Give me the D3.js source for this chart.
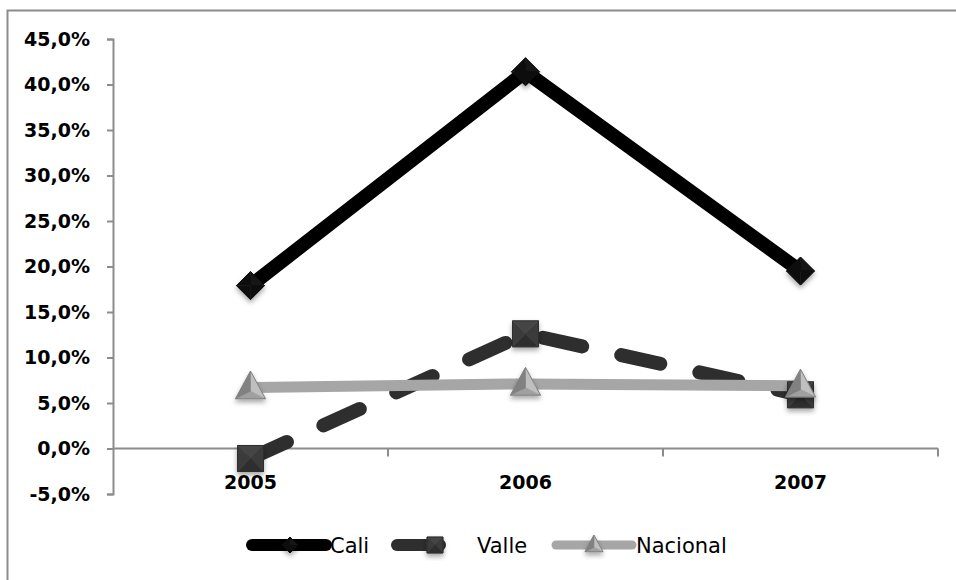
<!DOCTYPE html>
<html>
<head>
<meta charset="utf-8">
<script src="https://cdn.jsdelivr.net/npm/d3@7"></script>
<style>
  body { margin: 0; background: #fff; }
  svg { display: block; font-family: "DejaVu Sans", "Liberation Sans", sans-serif; }
</style>
</head>
<body>
<svg id="chart" width="956" height="580"></svg>
<script>
// data
let years = ['2005', '2006', '2007'],
    cali = [17.9, 41.4, 19.5],
    valle = [-1.1, 12.6, 5.9],
    nacional = [6.7, 7.1, 6.9],
    yTicks = [-5, 0, 5, 10, 15, 20, 25, 30, 35, 40, 45];

let svg = d3.select('#chart');

// outer frame (runs off right / bottom edge)
svg.append('rect')
    .attr('x', 7.5).attr('y', 10.5)
    .attr('width', 960).attr('height', 600)
    .attr('fill', 'none').attr('stroke', '#8c8c8c').attr('stroke-width', 2);

let defs = svg.append('defs');
let f = defs.append('filter').attr('id', 'shadow')
    .attr('x', '-50%').attr('y', '-50%').attr('width', '200%').attr('height', '200%');
f.append('feDropShadow').attr('dx', 0).attr('dy', 3).attr('stdDeviation', 2.5)
    .attr('flood-color', '#000').attr('flood-opacity', 0.35);

let x = d3.scaleBand().domain(years).range([113, 938]),
    y = d3.scaleLinear().domain([-5, 45]).range([494, 39]);

let cx = d => x(d) + x.bandwidth() / 2;

// y axis
let yAxis = svg.append('g')
    .attr('transform', 'translate(113,0)')
    .call(d3.axisLeft(y).tickValues(yTicks).tickSize(6).tickSizeOuter(6)
        .tickFormat(d => d.toFixed(1).replace('.', ',') + '%'))
    .attr('font-family', '"DejaVu Sans", sans-serif');
yAxis.select('.domain').attr('stroke', '#8c8c8c').attr('stroke-width', 2);
yAxis.selectAll('.tick line').attr('stroke', '#8c8c8c').attr('stroke-width', 2);
yAxis.selectAll('.tick text')
    .attr('x', -23).attr('font-size', 19).attr('font-weight', 'bold').attr('fill', '#000');

// x axis at zero
let xAxis = svg.append('g').attr('transform', 'translate(0,' + y(0) + ')');
xAxis.append('line')
    .attr('x1', 113).attr('x2', 938)
    .attr('stroke', '#8c8c8c').attr('stroke-width', 2);
xAxis.selectAll('.sep')
    .data(years)
    .enter()
    .append('line')
    .attr('x1', d => x(d) + x.bandwidth()).attr('x2', d => x(d) + x.bandwidth())
    .attr('y1', 0).attr('y2', 8)
    .attr('stroke', '#8c8c8c').attr('stroke-width', 2);
svg.selectAll('.xlab')
    .data(years)
    .enter()
    .append('text')
    .attr('x', cx).attr('y', 489)
    .attr('text-anchor', 'middle')
    .attr('font-size', 19).attr('font-weight', 'bold')
    .text(d => d);

let line = d3.line().x((d, i) => cx(years[i])).y(d => y(d));

let series = [
    {name: 'Cali', values: cali, color: '#000', width: 14, dash: null, marker: 'diamond', mcolor: '#111'},
    {name: 'Valle', values: valle, color: '#2e2e2e', width: 14, dash: '40,40', marker: 'square', mcolor: '#3a3a3a'},
    {name: 'Nacional', values: nacional, color: '#a6a6a6', width: 11, dash: null, marker: 'triangle', mcolor: '#a0a0a0'}
];

series.forEach(s => {
    svg.append('path')
        .attr('d', line(s.values))
        .attr('fill', 'none')
        .attr('stroke', s.color)
        .attr('stroke-width', s.width)
        .attr('stroke-linecap', s.dash ? 'round' : 'butt')
        .attr('stroke-dasharray', s.dash);
});

// faceted marker drawing
function marker(g, type, px, py, c, size) {
    let h = size / 2, dark = d3.color(c).darker(0.6), light = d3.color(c).brighter(0.5);
    let grp = g.append('g').attr('transform', 'translate(' + px + ',' + py + ')').attr('filter', 'url(#shadow)');
    let pts;
    if (type === 'diamond') pts = [[0, -h], [h, 0], [0, h], [-h, 0]];
    else if (type === 'square') pts = [[-h, -h], [h, -h], [h, h], [-h, h]];
    else pts = [[0, -h * 1.1], [h, h * 0.75], [-h, h * 0.75]];
    let cy0 = type === 'triangle' ? h * 0.25 : 0;
    let shades = type === 'triangle' ? [light, c, dark] : [light, c, dark, c];
    pts.forEach((p, i) => {
        let q = pts[(i + 1) % pts.length];
        grp.append('path')
            .attr('d', 'M0,' + cy0 + 'L' + p[0] + ',' + p[1] + 'L' + q[0] + ',' + q[1] + 'Z')
            .attr('fill', shades[i]).attr('stroke', shades[i]).attr('stroke-width', 0.5);
    });
    grp.append('path')
        .attr('d', 'M' + pts.map(p => p.join(',')).join('L') + 'Z')
        .attr('fill', 'none').attr('stroke', dark).attr('stroke-width', 1);
}

let sizes = {diamond: 28, square: 26, triangle: 30};
series.forEach(s => {
    s.values.forEach((v, i) => marker(svg, s.marker, cx(years[i]), y(v), s.mcolor, sizes[s.marker]));
});

// legend
let legend = [
    {s: series[0], x1: 252, x2: 326, mx: 290, tx: 330},
    {s: series[1], x1: 397, x2: 440, mx: 435, tx: 477},
    {s: series[2], x1: 556, x2: 632, mx: 594, tx: 636}
];
let ly = 545;
legend.forEach(l => {
    svg.append('line')
        .attr('x1', l.x1).attr('x2', l.x2).attr('y1', ly).attr('y2', ly)
        .attr('stroke', l.s.color).attr('stroke-width', l.s.width - 2)
        .attr('stroke-linecap', 'round');
    marker(svg, l.s.marker, l.mx, ly, l.s.mcolor, l.s.marker === 'triangle' ? 18 : 16);
    svg.append('text')
        .attr('x', l.tx).attr('y', ly + 8)
        .attr('font-size', 21)
        .text(l.s.name);
});
</script>
</body>
</html>
